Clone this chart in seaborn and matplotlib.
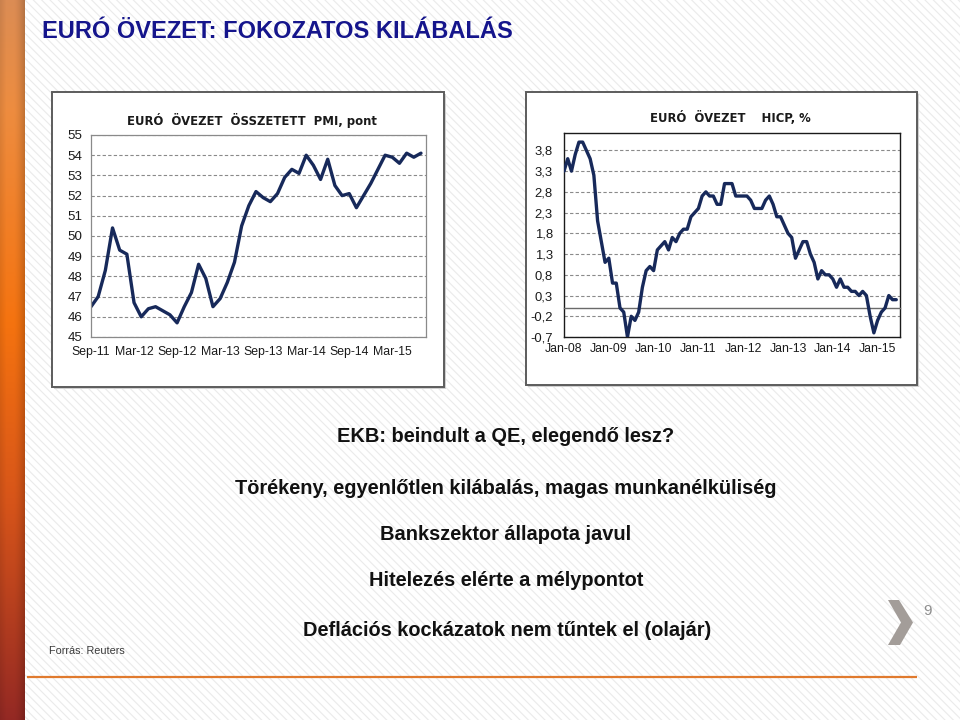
import numpy as np
import pandas as pd
import matplotlib
matplotlib.use("Agg")
import matplotlib.pyplot as plt
import seaborn as sns
from matplotlib.patches import Rectangle, Polygon

# ---------------- data ----------------
page_title = "EURÓ ÖVEZET: FOKOZATOS KILÁBALÁS"

pmi_title = "EURÓ  ÖVEZET  ÖSSZETETT  PMI, pont"
pmi_values = [46.5, 47.0, 48.3, 50.4, 49.3, 49.1, 46.7, 46.0, 46.4, 46.5, 46.3, 46.1,
              45.7, 46.5, 47.2, 48.6, 47.9, 46.5, 46.9, 47.7, 48.7, 50.5, 51.5, 52.2,
              51.9, 51.7, 52.1, 52.9, 53.3, 53.1, 54.0, 53.5, 52.8, 53.8, 52.5, 52.0,
              52.1, 51.4, 52.0, 52.6, 53.3, 54.0, 53.9, 53.6, 54.1, 53.9, 54.1]
pmi_tick_labels = ["Sep-11", "Mar-12", "Sep-12", "Mar-13", "Sep-13", "Mar-14", "Sep-14", "Mar-15"]
pmi_yticks = [45, 46, 47, 48, 49, 50, 51, 52, 53, 54, 55]

hicp_title = "EURÓ  ÖVEZET    HICP, %"
hicp_values = [3.3, 3.6, 3.3, 3.7, 4.0, 4.0, 3.8, 3.6, 3.2, 2.1, 1.6,
               1.1, 1.2, 0.6, 0.6, 0.0, -0.1, -0.7, -0.2, -0.3, -0.1, 0.5, 0.9,
               1.0, 0.9, 1.4, 1.5, 1.6, 1.4, 1.7, 1.6, 1.8, 1.9, 1.9, 2.2,
               2.3, 2.4, 2.7, 2.8, 2.7, 2.7, 2.5, 2.5, 3.0, 3.0, 3.0, 2.7,
               2.7, 2.7, 2.7, 2.6, 2.4, 2.4, 2.4, 2.6, 2.7, 2.5, 2.2, 2.2,
               2.0, 1.8, 1.7, 1.2, 1.4, 1.6, 1.6, 1.3, 1.1, 0.7, 0.9, 0.8,
               0.8, 0.7, 0.5, 0.7, 0.5, 0.5, 0.4, 0.4, 0.3, 0.4, 0.3, -0.2,
               -0.6, -0.3, -0.1, 0.0, 0.3, 0.2, 0.2]
hicp_tick_labels = ["Jan-08", "Jan-09", "Jan-10", "Jan-11", "Jan-12", "Jan-13", "Jan-14", "Jan-15"]
hicp_yticks = [-0.7, -0.2, 0.3, 0.8, 1.3, 1.8, 2.3, 2.8, 3.3, 3.8]

bullets = ["EKB: beindult a QE, elegendő lesz?",
           "Törékeny, egyenlőtlen kilábalás, magas munkanélküliség",
           "Bankszektor állapota javul",
           "Hitelezés elérte a mélypontot",
           "Deflációs kockázatok nem tűntek el (olajár)"]
source_text = "Forrás: Reuters"
page_number = "9"

# ---------------- style ----------------
sns.set_theme(style="white")
plt.rcParams["font.family"] = ["Liberation Sans", "DejaVu Sans"]
plt.rcParams["hatch.linewidth"] = 0.8

W, H = 960, 720
fig = plt.figure(figsize=(9.6, 7.2), dpi=100)
fig.patch.set_facecolor("white")

# background layer in pixel coordinates
bg = fig.add_axes([0, 0, 1, 1], zorder=-10)
bg.set_xlim(0, W)
bg.set_ylim(H, 0)
bg.axis("off")
bg.add_patch(Rectangle((0, 0), W, H, facecolor="white", edgecolor="#ebebeb",
                       hatch="\\\\\\\\", lw=0))

# left orange gradient bar
bar_ax = fig.add_axes([0, 0, 25 / W, 1], zorder=-5)
yy = np.linspace(0, 1, 360)
stops = np.array([0.0, 0.15, 0.45, 0.7, 1.0])
cols = np.array([[0.86, 0.55, 0.33], [0.93, 0.55, 0.25], [0.96, 0.45, 0.06],
                 [0.84, 0.33, 0.10], [0.58, 0.16, 0.14]])
grad = np.stack([np.interp(yy, stops, cols[:, c]) for c in range(3)], axis=1)
xx = np.linspace(0, 1, 25)
shade = 1.0 - 0.18 * np.clip((xx - 0.55) / 0.45, 0, 1) ** 1.5 - 0.08 * np.clip((0.25 - xx) / 0.25, 0, 1)
img = grad[:, None, :] * shade[None, :, None]
bar_ax.imshow(np.clip(img, 0, 1), aspect="auto", extent=[0, 1, 0, 1], origin="upper")
bar_ax.axis("off")

# page title
bg.text(42, 37.5, page_title, color="#15158c", fontsize=17, fontweight="bold",
        ha="left", va="baseline")

# chart frames
for (x0, y0, x1, y1) in [(52, 92, 444, 387), (526, 92, 917, 385)]:
    bg.add_patch(Rectangle((x0 + 2, y0 + 2), x1 - x0, y1 - y0, facecolor="#d0d0d0",
                           edgecolor="none", zorder=1))
    bg.add_patch(Rectangle((x0, y0), x1 - x0, y1 - y0, facecolor="white",
                           edgecolor="#5c5c5c", lw=1.4, zorder=2))

bg.text(252, 121, pmi_title, fontsize=8.4, fontweight="bold", ha="center", va="center",
        color="#1a1a1a", family=["DejaVu Sans"], zorder=3)
bg.text(730, 118, hicp_title, fontsize=8.4, fontweight="bold", ha="center", va="center",
        color="#1a1a1a", family=["DejaVu Sans"], zorder=3)

line_color = "#17295a"
grid_kw = dict(color="#8a8a8a", lw=0.8, ls=(0, (3, 2)))

# ---------------- left chart: PMI ----------------
ax1 = fig.add_axes([91 / W, 1 - 337 / H, 335 / W, 202 / H])
df1 = pd.DataFrame({"idx": np.arange(len(pmi_values)), "val": pmi_values})
sns.lineplot(data=df1, x="idx", y="val", ax=ax1, color=line_color, lw=2.4)
ax1.set_facecolor("white")
ax1.set_xlim(0, 46.7)
ax1.set_ylim(45, 55)
ax1.set_yticks(pmi_yticks)
ax1.set_yticklabels([str(v) for v in pmi_yticks])
ax1.set_xticks(np.arange(len(pmi_tick_labels)) * 6)
ax1.set_xticklabels(pmi_tick_labels)
ax1.set_xlabel("")
ax1.set_ylabel("")
ax1.yaxis.grid(True, **grid_kw)
ax1.xaxis.grid(False)
for s in ax1.spines.values():
    s.set_visible(True)
    s.set_color("#8a8a8a")
    s.set_linewidth(0.9)
ax1.tick_params(axis="both", direction="out", length=3.5, width=0.8, color="#8a8a8a",
                labelcolor="#1a1a1a")
ax1.tick_params(axis="x", pad=3, labelsize=8.8)
ax1.tick_params(axis="y", pad=2.5, labelsize=9.6)

# ---------------- right chart: HICP ----------------
ax2 = fig.add_axes([564 / W, 1 - 337 / H, 336 / W, 204 / H])
df2 = pd.DataFrame({"idx": np.arange(len(hicp_values)), "val": hicp_values})
sns.lineplot(data=df2, x="idx", y="val", ax=ax2, color=line_color, lw=2.4, zorder=5)
ax2.set_facecolor("white")
ax2.set_xlim(0, 90)
ax2.set_ylim(-0.7, 4.22)
ax2.set_yticks(hicp_yticks)
ax2.set_yticklabels([f"{v:.1f}".replace(".", ",") for v in hicp_yticks])
ax2.set_xlabel("")
ax2.set_ylabel("")
ax2.yaxis.grid(True, **grid_kw)
ax2.xaxis.grid(False)
for name in ["top", "left", "right"]:
    ax2.spines[name].set_visible(True)
    ax2.spines[name].set_color("#1a1a1a")
    ax2.spines[name].set_linewidth(1.0)
ax2.spines["bottom"].set_position(("data", 0))
ax2.spines["bottom"].set_color("#6a6a6a")
ax2.spines["bottom"].set_linewidth(1.0)
year_ticks = np.arange(len(hicp_tick_labels)) * 12
ax2.set_xticks(year_ticks)
ax2.tick_params(axis="x", direction="out", length=4.5, width=0.9, color="#6a6a6a",
                labelbottom=False)
ax2.tick_params(axis="y", length=0, pad=8, labelsize=9.4, labelcolor="#1a1a1a")
sec = ax2.secondary_xaxis("bottom")
sec.set_xticks(year_ticks)
sec.set_xticklabels(hicp_tick_labels)
sec.tick_params(length=0, pad=4, labelsize=8.8, labelcolor="#1a1a1a")
sec.spines["bottom"].set_color("#1a1a1a")
sec.spines["bottom"].set_linewidth(1.0)

# ---------------- text block ----------------
bullet_pos = [(506, 437), (506, 488), (506, 534), (506, 581), (507, 631)]
for (bx, by), txt in zip(bullet_pos, bullets):
    bg.text(bx, by, txt, fontsize=14.4, fontweight="bold", ha="center", va="center",
            color="#111111")

bg.text(49, 651, source_text, fontsize=7.8, ha="left", va="center", color="#3a3a3a",
        family=["Liberation Sans Narrow", "Liberation Sans"])

# chevron and page number
bg.add_patch(Polygon([(888, 600), (899, 600), (913, 622.5), (900, 645), (888, 645), (901, 622.5)],
                     closed=True, facecolor="#a39d99", edgecolor="none"))
bg.text(927, 611, page_number, fontsize=11, ha="center", va="center", color="#8e8e8e")

# bottom orange rule
bg.plot([27, 917], [677, 677], color="#e07a2e", lw=1.6, solid_capstyle="butt")

fig.savefig("out.png", dpi=100)
